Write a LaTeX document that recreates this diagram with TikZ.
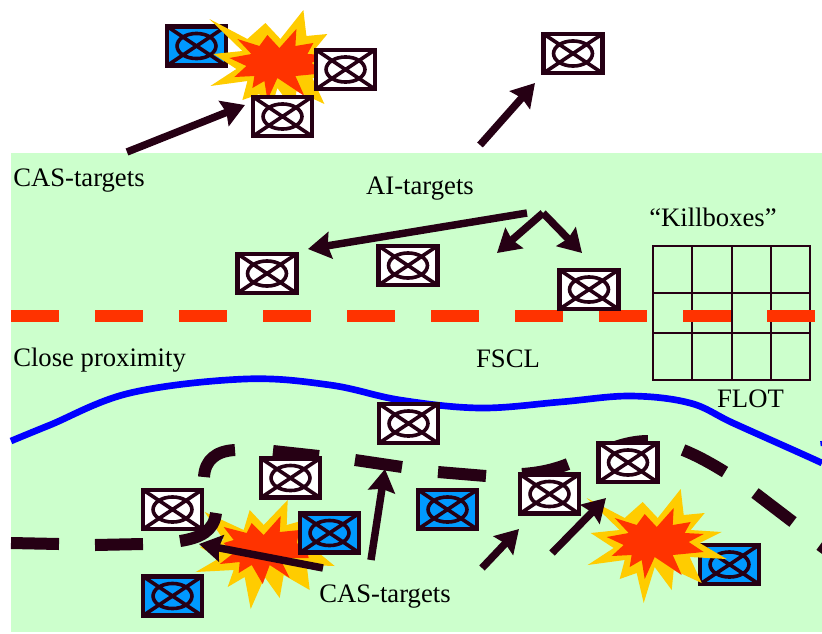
\documentclass[tikz,border=0pt]{standalone}
\usepackage{fontspec}
\setmainfont{Liberation Serif}
\usetikzlibrary{arrows.meta}
\definecolor{ink}{HTML}{260014}
\definecolor{field}{HTML}{CCFFCC}
\definecolor{flame}{HTML}{FFCC00}
\definecolor{core}{HTML}{FF3300}
\definecolor{hostile}{HTML}{0099FF}
\tikzset{
  target/.style={rectangle, draw=ink, line width=3.4pt, fill=white, inner sep=0pt,
    minimum width=44pt, minimum height=29.2pt,
    path picture={
      \draw[ink, line width=2.7pt]
        (path picture bounding box.north west) -- (path picture bounding box.south east)
        (path picture bounding box.north east) -- (path picture bounding box.south west)
        (path picture bounding box.center) ellipse [x radius=14.6pt, y radius=9.4pt];
    }},
  bluetarget/.style={target, fill=hostile},
  strike/.style={ink, line width=5.6pt, -{Stealth[length=17pt, width=20pt, inset=2pt]}},
  note/.style={inner sep=0pt, font=\fontsize{20}{22}\selectfont, text=black},
  flotdash/.style={ink, line width=9pt}
}
\newcommand{\burstwide}[1]{
  \begin{scope}[shift={#1}]
    \fill[flame] (-69,-42) -- (-31,-22) -- (-13,-38) -- (2,-22) -- (25,-51) -- (28,-25) -- (49,-27) -- (35,-10)
      -- (66,-8) -- (44,3) -- (71,19) -- (34,17) -- (46,43) -- (18,30) -- (16,50) -- (-1,27) -- (-12,63)
      -- (-19,33) -- (-36,39) -- (-31,20) -- (-68,25) -- (-42,8) -- (-65,-7) -- (-36,-10) -- cycle;
    \fill[core] (-41,-22) -- (-19,-15) -- (-11,-26) -- (1,-13) -- (18,-32) -- (17,-15) -- (35,-18) -- (29,-7)
      -- (48,-6) -- (33,2) -- (48,12) -- (17,15) -- (26,35) -- (-1,17) -- (-11,39) -- (-14,20) -- (-26,27)
      -- (-24,15) -- (-44,16) -- (-32,5) -- (-49,-3) -- (-27,-7) -- cycle;
  \end{scope}
}
\newcommand{\burstlow}[1]{
  \begin{scope}[shift={#1}]
    \fill[flame] (-57,-38) -- (-18,-20) -- (-12,-40) -- (2,-25) -- (26,-50) -- (25,-25) -- (43,-30) -- (38,-15)
      -- (68,-17) -- (50,-3) -- (73,16) -- (45,15) -- (48,40) -- (22,25) -- (18,48) -- (3,27) -- (-11,59)
      -- (-17,27) -- (-34,37) -- (-28,20) -- (-66,22) -- (-42,8) -- (-62,-3) -- (-38,-10) -- cycle;
    \fill[core] (-38,-23) -- (-15,-17) -- (-10,-27) -- (2,-15) -- (19,-34) -- (18,-18) -- (38,-20) -- (35,-7)
      -- (45,0) -- (47,8) -- (18,8) -- (28,28) -- (8,15) -- (1,34) -- (-10,15) -- (-23,23)
      -- (-22,12) -- (-42,14) -- (-28,3) -- (-38,-7) -- (-28,-10) -- cycle;
  \end{scope}
}
\begin{document}
\begin{tikzpicture}[x=0.75pt, y=-0.75pt]
  \useasboundingbox (0,0) rectangle (822,633);
  \clip (0,0) rectangle (822,633);
  % Ground below the aircraft
  \fill[field] (11,153) rectangle (822,632);
  % Killbox grid
  \draw[ink, line width=1.5pt] (653,246) rectangle (810,380)
    (692,246) -- (692,380) (732,246) -- (732,380) (771,246) -- (771,380)
    (653,293) -- (810,293) (653,333) -- (810,333);
  % Fire support line
  \draw[core, line width=9pt, dash pattern=on 36pt off 27pt] (11,316) -- (815,316);
  % Line of own troops, blue
  \draw[blue, line width=5pt] plot[smooth, tension=0.6] coordinates {(11,441) (50,425) (130,393) (245,379)
    (330,385) (400,400) (480,408) (560,402) (630,396) (690,403) (733,423) (800,453) (822,463)};
  \draw[blue, line width=2pt] (821.5,441) -- (822,446);
  % Targets under the first and third explosions
  \node[bluetarget] (topblue) at (196.5,46) {};
  \node[bluetarget] (lowblue) at (729.5,564.5) {};
  \burstwide{(278.4,61)}
  \burstwide{(655.7,540)}
  \burstlow{(261.7,550)}
  % Enemy front, drawn piece by piece
  \draw[flotdash] (11,543) -- (59,544) (95,545) -- (143,544)
    (180,541) .. controls (200,538) and (214,531) .. (216,513)
    (204,477) .. controls (205,460) and (216,451) .. (235,450)
    (273,451) -- (319,456)
    (355,460) -- (402,467)
    (438,472) -- (486,476)
    (522,474) .. controls (538,473) and (553,470) .. (568,464)
    (610,449) .. controls (622,444) and (636,441) .. (648,441)
    (683,450) .. controls (698,456) and (712,464) .. (725,472)
    (755,493) -- (793,522)
    (820,545) -- (835,556);
  % Targets
  \node[target] (topright) at (345.5,69.5) {};
  \node[target] (topunder) at (282.5,116.5) {};
  \node[target] (deepone) at (573,53.5) {};
  \node[target] (midleft) at (267,273.5) {};
  \node[target] (midcentre) at (408,265.5) {};
  \node[target] (midright) at (589,289.5) {};
  \node[target] (onriver) at (408.5,423.5) {};
  \node[target] (frontb) at (290.5,478) {};
  \node[target] (fronta) at (172.5,509.5) {};
  \node[bluetarget] (blueb) at (329.5,533) {};
  \node[bluetarget] (bluea) at (172.5,596) {};
  \node[bluetarget] (bluec) at (447.5,509.5) {};
  \node[target] (frontc) at (549.5,494) {};
  \node[target] (frontd) at (628,462.5) {};
  % Ends of the arrows
  \coordinate (castail) at (127,152);
  \coordinate (cashead) at (245,105);
  \coordinate (deeptail) at (480,145);
  \coordinate (deephead) at (535,83);
  \coordinate (aitail) at (527,213);
  \coordinate (aihead) at (308,249);
  \coordinate (forktail) at (543,213);
  \coordinate (forkleft) at (497,253);
  \coordinate (forkright) at (582,253);
  \coordinate (closetail) at (323,568);
  \coordinate (closehead) at (199,544);
  \coordinate (uptail) at (371,560);
  \coordinate (uphead) at (385,469);
  \coordinate (righttail) at (482,568);
  \coordinate (righthead) at (519,529);
  \coordinate (fartail) at (552,553);
  \coordinate (farhead) at (606,498);
  % Arrows
  \draw[strike] (castail) -- (cashead);
  \draw[strike] (deeptail) -- (deephead);
  \draw[strike] (aitail) -- (aihead);
  \draw[strike] (forktail) -- (forkleft);
  \draw[strike] (forktail) -- (forkright);
  \draw[strike] (closetail) -- (closehead);
  \draw[strike] (uptail) -- (uphead);
  \draw[strike] (righttail) -- (righthead);
  \draw[strike] (fartail) -- (farhead);
  % Texts
  \node[note, anchor=west] (castop) at (13,181) {CAS-targets};
  \node[note] (ailabel) at (420,189) {AI-targets};
  \node[note] (boxlabel) at (713,217) {“Killboxes”};
  \node[note, anchor=west] (closelabel) at (13,360.5) {Close proximity};
  \node[note] (fscl) at (508,358.5) {FSCL};
  \node[note] (flot) at (750.5,398.5) {FLOT};
  \node[note] (caslow) at (385,597) {CAS-targets};
\end{tikzpicture}
\end{document}
